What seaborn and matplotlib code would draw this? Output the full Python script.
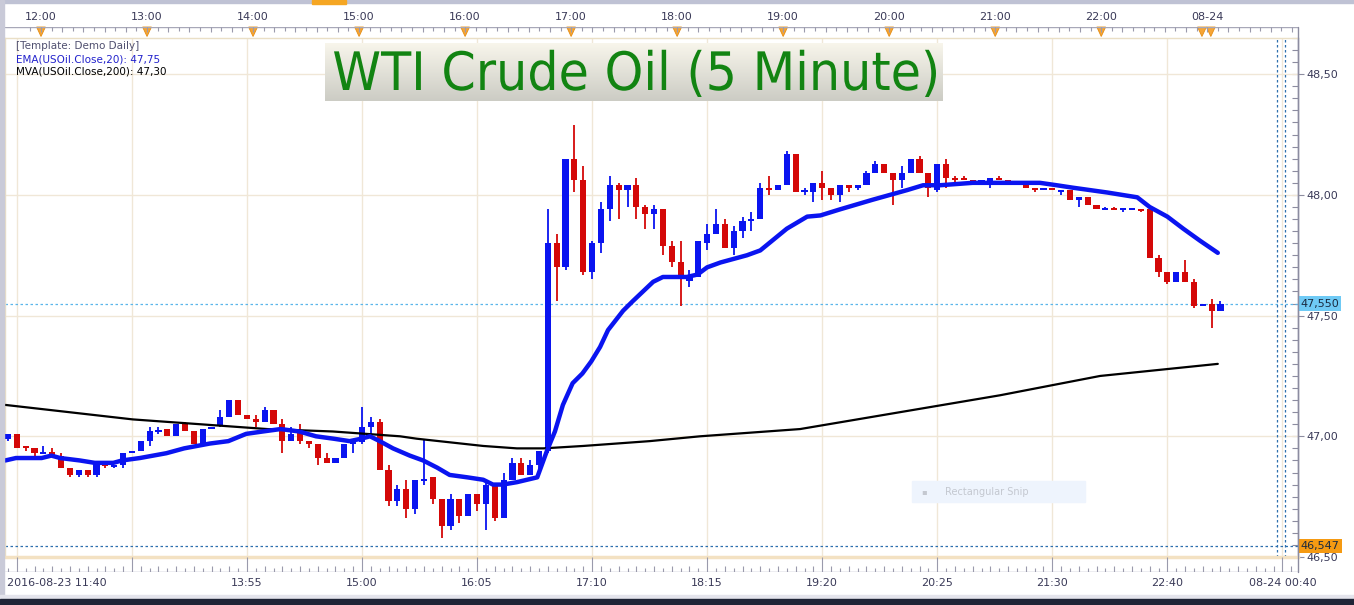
import numpy as np
import pandas as pd
import matplotlib
matplotlib.use("Agg")
import matplotlib.pyplot as plt
import matplotlib.transforms as mtransforms
from matplotlib.patches import Rectangle, Polygon, PathPatch
from matplotlib.lines import Line2D
from matplotlib.textpath import TextPath
from matplotlib.font_manager import FontProperties
import seaborn as sns

sns.set_style("white")
plt.rcParams['font.family'] = ['DejaVu Sans']

# 5 minute candles, index 0 = first candle at the left edge
opens = [46.99, 47.01, 46.96, 46.95, 46.93, 46.935, 46.92, 46.87, 46.84, 46.86,
         46.84, 46.885, 46.875, 46.88, 46.93, 46.94, 46.98, 47.02, 47.03, 47.00,
         47.05, 47.02, 46.97, 47.03, 47.045, 47.08, 47.15, 47.09, 47.07, 47.06,
         47.11, 47.05, 46.98, 47.02, 46.98, 46.97, 46.91, 46.89, 46.91, 46.97,
         46.975, 47.04, 47.06, 46.86, 46.73, 46.78, 46.70, 46.815, 46.83, 46.74,
         46.63, 46.74, 46.67, 46.76, 46.72, 46.80, 46.66, 46.82, 46.89, 46.84,
         46.88, 46.94, 47.80, 47.70, 48.15, 48.06, 47.68, 47.80, 47.94, 48.04,
         48.02, 48.04, 47.95, 47.92, 47.94, 47.79, 47.72, 47.645, 47.66, 47.80,
         47.84, 47.88, 47.78, 47.85, 47.895, 47.90, 48.03, 48.02, 48.04, 48.17,
         48.01, 48.01, 48.05, 48.03, 48.00, 48.04, 48.03, 48.04, 48.09, 48.13,
         48.09, 48.06, 48.09, 48.15, 48.09, 48.02, 48.13, 48.07, 48.07, 48.06,
         48.05, 48.05, 48.07, 48.06, 48.05, 48.04, 48.03, 48.02, 48.03, 48.015,
         48.02, 47.98, 47.99, 47.96, 47.94, 47.945, 47.94, 47.94, 47.94, 47.94,
         47.74, 47.68, 47.64, 47.68, 47.64, 47.54, 47.55, 47.52]
highs = [47.01, 47.01, 46.96, 46.95, 46.96, 46.95, 46.93, 46.87, 46.86, 46.86,
         46.89, 46.89, 46.88, 46.93, 46.94, 46.98, 47.04, 47.04, 47.03, 47.05,
         47.06, 47.02, 47.03, 47.04, 47.11, 47.15, 47.15, 47.09, 47.09, 47.12,
         47.11, 47.07, 47.04, 47.05, 46.98, 46.97, 46.93, 46.91, 46.97, 46.99,
         47.12, 47.08, 47.07, 46.88, 46.80, 46.82, 46.82, 46.99, 46.83, 46.74,
         46.76, 46.74, 46.76, 46.76, 46.82, 46.80, 46.85, 46.91, 46.91, 46.90,
         46.94, 47.94, 47.84, 48.15, 48.29, 48.12, 47.81, 47.97, 48.08, 48.05,
         48.04, 48.07, 47.96, 47.96, 47.94, 47.81, 47.81, 47.69, 47.81, 47.88,
         47.94, 47.90, 47.87, 47.91, 47.93, 48.05, 48.08, 48.04, 48.18, 48.17,
         48.03, 48.05, 48.10, 48.03, 48.04, 48.04, 48.04, 48.10, 48.14, 48.13,
         48.09, 48.12, 48.15, 48.16, 48.09, 48.13, 48.15, 48.08, 48.08, 48.06,
         48.06, 48.07, 48.08, 48.06, 48.05, 48.04, 48.03, 48.03, 48.03, 48.02,
         48.02, 47.99, 47.99, 47.96, 47.95, 47.95, 47.945, 47.945, 47.94, 47.94,
         47.75, 47.68, 47.68, 47.73, 47.65, 47.545, 47.57, 47.56]
lows = [46.98, 46.95, 46.94, 46.92, 46.93, 46.92, 46.87, 46.83, 46.83, 46.83,
        46.83, 46.87, 46.87, 46.87, 46.93, 46.94, 46.96, 47.01, 47.00, 47.00,
        47.02, 46.97, 46.97, 47.03, 47.04, 47.08, 47.09, 47.07, 47.04, 47.06,
        47.05, 46.93, 46.98, 46.97, 46.95, 46.88, 46.89, 46.89, 46.91, 46.93,
        46.97, 47.01, 46.86, 46.71, 46.71, 46.66, 46.68, 46.80, 46.72, 46.58,
        46.61, 46.64, 46.67, 46.69, 46.61, 46.65, 46.66, 46.82, 46.84, 46.84,
        46.86, 46.93, 47.56, 47.69, 48.01, 47.67, 47.65, 47.76, 47.89, 47.90,
        47.95, 47.90, 47.86, 47.86, 47.75, 47.70, 47.54, 47.62, 47.66, 47.77,
        47.84, 47.78, 47.75, 47.82, 47.85, 47.90, 48.00, 48.02, 48.04, 48.01,
        48.00, 47.97, 47.98, 47.98, 47.97, 48.01, 48.02, 48.04, 48.09, 48.09,
        47.96, 48.03, 48.09, 48.09, 47.99, 48.01, 48.03, 48.05, 48.06, 48.05,
        48.05, 48.03, 48.06, 48.05, 48.04, 48.03, 48.01, 48.02, 48.02, 48.00,
        47.98, 47.95, 47.96, 47.94, 47.94, 47.94, 47.93, 47.94, 47.93, 47.74,
        47.66, 47.63, 47.64, 47.64, 47.53, 47.54, 47.45, 47.52]
closes = [47.01, 46.95, 46.95, 46.93, 46.935, 46.92, 46.87, 46.84, 46.86, 46.84,
          46.89, 46.875, 46.88, 46.93, 46.94, 46.98, 47.02, 47.025, 47.00, 47.05,
          47.02, 46.97, 47.03, 47.04, 47.08, 47.15, 47.09, 47.07, 47.06, 47.11,
          47.05, 46.98, 47.01, 46.98, 46.97, 46.91, 46.89, 46.91, 46.97, 46.98,
          47.04, 47.06, 46.86, 46.73, 46.78, 46.70, 46.82, 46.82, 46.74, 46.63,
          46.74, 46.67, 46.76, 46.72, 46.80, 46.66, 46.82, 46.89, 46.84, 46.88,
          46.94, 47.80, 47.70, 48.15, 48.06, 47.68, 47.80, 47.94, 48.04, 48.02,
          48.04, 47.95, 47.92, 47.94, 47.79, 47.72, 47.65, 47.66, 47.81, 47.84,
          47.88, 47.78, 47.85, 47.89, 47.90, 48.03, 48.02, 48.04, 48.17, 48.01,
          48.02, 48.05, 48.03, 48.00, 48.04, 48.03, 48.04, 48.09, 48.13, 48.09,
          48.06, 48.09, 48.15, 48.09, 48.03, 48.13, 48.07, 48.065, 48.06, 48.05,
          48.06, 48.07, 48.06, 48.05, 48.04, 48.03, 48.02, 48.03, 48.02, 48.02,
          47.98, 47.99, 47.96, 47.94, 47.945, 47.94, 47.945, 47.945, 47.935, 47.74,
          47.68, 47.64, 47.68, 47.64, 47.54, 47.545, 47.52, 47.55]

# EMA(20) (candle index, price)
ema_idx = [-0.3, 0.9, 3.8, 4.9, 5.9, 8.1, 9.8, 11.9, 12.9, 14.9, 17.9, 19.9, 22.8,
           24.9, 26.9, 28.8, 30.8, 32.9, 34.8, 36.8, 38.6, 39.9, 40.9, 42.0, 43.5,
           45.4, 46.9, 48.5, 49.9, 51.9, 53.7, 54.8, 55.9, 57.5, 59.8, 60.9, 61.8,
           62.7, 63.8, 64.9, 65.9, 66.9, 67.8, 69.5, 70.6, 72.9, 74.0, 76.7, 77.9,
           79.0, 80.5, 83.5, 85.0, 88.0, 90.3, 91.8, 94.0, 97.7, 101.6, 103.4, 105.3,
           109.0, 112.9, 116.6, 118.5, 120.3, 124.2, 127.6, 129.0, 131.0, 132.8,
           134.7, 136.7]
ema_val = [46.90, 46.91, 46.91, 46.92, 46.91, 46.90, 46.89, 46.89, 46.90, 46.91,
           46.93, 46.95, 46.97, 46.98, 47.01, 47.02, 47.03, 47.02, 47.00, 46.99,
           46.98, 46.99, 47.00, 46.98, 46.95, 46.92, 46.90, 46.87, 46.84, 46.83,
           46.82, 46.80, 46.80, 46.81, 46.83, 46.94, 47.02, 47.13, 47.22, 47.26,
           47.31, 47.37, 47.44, 47.52, 47.56, 47.64, 47.66, 47.66, 47.67, 47.70,
           47.72, 47.75, 47.77, 47.86, 47.91, 47.915, 47.94, 47.98, 48.02, 48.04,
           48.04, 48.05, 48.05, 48.05, 48.04, 48.03, 48.01, 47.99, 47.95, 47.91,
           47.86, 47.81, 47.76]

# MVA(200)
mva_idx = [-0.3, 14.1, 21.7, 29.3, 36.7, 44.3, 46.2, 53.7, 57.5, 60.5, 65.0, 72.5,
           78.2, 89.5, 100.8, 112.1, 123.4, 136.7]
mva_val = [47.13, 47.07, 47.05, 47.03, 47.02, 47.00, 46.99, 46.96, 46.95, 46.95,
           46.96, 46.98, 47.00, 47.03, 47.10, 47.17, 47.25, 47.30]

bottom_labels = ["2016-08-23 11:40", "", "13:55", "15:00", "16:05", "17:10", "18:15",
                 "19:20", "20:25", "21:30", "22:40", "08-24 00:40"]
top_labels = ["12:00", "13:00", "14:00", "15:00", "16:00", "17:00", "18:00",
              "19:00", "20:00", "21:00", "22:00", "08-24"]
y_ticks = [46.5, 47.0, 47.5, 48.0, 48.5]
last_price = 47.550
low_mark = 46.547
ema_last = 47.75
mva_last = 47.30
title = "WTI Crude Oil (5 Minute)"

BLUE = "#0a14f0"
RED = "#d40808"
GRID = "#f0e7d7"
TXT = "#3a3a58"
W, H = 1354, 605


def fx(px):
    return px / W


def fy(py):
    return 1 - py / H


def comma(v, nd):
    return f"{v:.{nd}f}".replace(".", ",")


fig = plt.figure(figsize=(W / 100, H / 100), dpi=100, facecolor="white")

# window chrome bits
fig.patches.append(Rectangle((0, fy(3)), 1, fy(0) - fy(3), transform=fig.transFigure,
                             color="#bfc2d4", zorder=0))
fig.patches.append(Rectangle((fx(312), fy(4)), fx(34), fy(0) - fy(4), transform=fig.transFigure,
                             color="#f5a623", zorder=1))
fig.patches.append(Rectangle((0, 0), fx(4), 1, transform=fig.transFigure,
                             color="#c9cad8", zorder=0))
fig.patches.append(Rectangle((0, fy(599)), 1, fy(595) - fy(599), transform=fig.transFigure,
                             color="#e4e4ec", zorder=0))
fig.patches.append(Rectangle((0, 0), 1, fy(599), transform=fig.transFigure,
                             color="#1f2436", zorder=0))

x_lo, x_hi = (5 - 8) / 8.85, (1298 - 8) / 8.85

# main price panel
ax = fig.add_axes([fx(5), fy(557), fx(1298) - fx(5), fy(38) - fy(557)])
ax.set_facecolor("white")
ax.set_xlim(x_lo, x_hi)
ax.set_ylim(46.50, 48.64)

grid_idx = [1 + 13 * k for k in range(len(bottom_labels))]
for g in grid_idx:
    ax.axvline(g, color=GRID, lw=1.0, zorder=1)
for yv in y_ticks[1:]:
    ax.axhline(yv, color=GRID, lw=1.0, zorder=1)

df = pd.DataFrame({"o": opens, "h": highs, "l": lows, "c": closes})
df["i"] = np.arange(len(df))
col = np.where(df["c"] > df["o"], BLUE, RED)
ax.vlines(df["i"], df["l"], df["h"], colors=col, lw=1.3, zorder=3)
span = (df["c"] - df["o"]).abs()
min_h = 0.009
body_h = np.maximum(span, min_h)
body_b = np.where(span < min_h, (df["o"] + df["c"]) / 2 - min_h / 2,
                  np.minimum(df["o"], df["c"]))
ax.bar(df["i"], body_h, bottom=body_b, width=0.7, color=col, linewidth=0, zorder=4)

sns.lineplot(x=mva_idx, y=mva_val, ax=ax, color="black", lw=1.6, zorder=5)
sns.lineplot(x=ema_idx, y=ema_val, ax=ax, color=BLUE, lw=3.2, zorder=6)
ax.set_xlabel("")
ax.set_ylabel("")

# price markers
ax.axhline(last_price, color="#5bb6ea", lw=0.9, ls=(0, (2, 2)), zorder=2)
ax.axhline(low_mark, color="#2d6fae", lw=0.9, ls=(0, (2, 2)), zorder=2)
for xv in [(1277 - 8) / 8.85, (1285 - 8) / 8.85]:
    ax.axvline(xv, color="#2d6fae", lw=0.9, ls=(0, (2, 2)), zorder=2)

ax.set_xticks([])
ax.yaxis.tick_right()
ax.set_yticks(y_ticks)
ax.set_yticklabels([comma(v, 2) for v in y_ticks])
ax.set_yticks(np.arange(46.5, 48.66, 0.05), minor=True)
ax.tick_params(axis="y", which="major", direction="inout", length=8, width=0.8,
               color="#8c8ca0", labelsize=8, labelcolor=TXT, pad=2)
ax.tick_params(axis="y", which="minor", direction="in", length=4, width=0.8,
               color="#8c8ca0", right=True)
for side in ["top", "left"]:
    ax.spines[side].set_color("#eadfc6")
    ax.spines[side].set_linewidth(1)
ax.spines["bottom"].set_color("#f3e1c2")
ax.spines["bottom"].set_linewidth(2.5)
ax.spines["right"].set_color("#8c8ca0")
ax.spines["right"].set_linewidth(1)

ytr = mtransforms.blended_transform_factory(ax.transAxes, ax.transData)
ax.text(1.002, last_price, comma(last_price, 3), transform=ytr,
        fontsize=8, color="#1a2a40", va="center", ha="left", zorder=10,
        bbox=dict(fc="#6fcaf5", ec="none", pad=1.5))
ax.text(1.002, low_mark, comma(low_mark, 3), transform=ytr,
        fontsize=8, color="#1a2a40", va="center", ha="left", zorder=10,
        bbox=dict(fc="#f59a12", ec="none", pad=1.5))

# indicator legend
fig.text(fx(16), fy(46), "[Template: Demo Daily]", fontsize=7.5, color="#505070", va="center")
fig.text(fx(16), fy(59), f"EMA(USOil.Close,20): {comma(ema_last, 2)}", fontsize=7.5,
         color="#2222cc", va="center")
fig.text(fx(16), fy(72), f"MVA(USOil.Close,200): {comma(mva_last, 2)}", fontsize=7.5,
         color="black", va="center")

# faint snipping tool tooltip
fig.patches.append(Rectangle((fx(912), fy(502)), fx(173), fy(481) - fy(502),
                             transform=fig.transFigure, color="#eef4fd", zorder=20))
fig.text(fx(945), fy(492), "Rectangular Snip", fontsize=7, color="#c4c8d0", va="center", zorder=21)
fig.text(fx(921), fy(492), "\u25aa", fontsize=6, color="#c4c8d0", va="center", zorder=21)

# title box (axes in pixel units)
tw, th = 618, 58
axt_title = fig.add_axes([fx(325), fy(101), fx(tw), fy(43) - fy(101)])
axt_title.set_xlim(0, tw)
axt_title.set_ylim(0, th)
axt_title.set_axis_off()
vgrad = np.linspace(0, 1, 64)[:, None]
top_c = np.array([0.975, 0.965, 0.925])
bot_c = np.array([0.80, 0.80, 0.77])
img = (top_c * (1 - vgrad[..., None]) + bot_c * vgrad[..., None]) * np.ones((1, 8, 1))
axt_title.imshow(img, aspect="auto", extent=(0, tw, 0, th), origin="upper")
tp = TextPath((0, 0), title, size=53, prop=FontProperties(family="DejaVu Sans"))
ext = tp.get_extents()
sx = 602 / ext.width
trans = mtransforms.Affine2D().translate(-ext.x0, 0).scale(sx, 1).translate(9, 11)
axt_title.add_patch(PathPatch(trans.transform_path(tp), fc="#128412", ec="none"))

# top time ruler
axr = fig.add_axes([fx(5), fy(38), fx(1298) - fx(5), fy(27) - fy(38)])
axr.set_xlim(x_lo, x_hi)
axr.set_ylim(0, 11)
axr.set_axis_off()
axr.plot([x_lo, x_hi], [11, 11], color="#a8a8b8", lw=1)
hour_pos = [3.73 + 11.98 * k for k in range(len(top_labels))]
for k in range(-1, 122):
    p = 3.73 + 1.198 * k
    if x_lo < p < x_hi:
        axr.vlines(p, 11 - (5 if k % 2 == 0 else 3.5), 11, color="#9a9aac", lw=0.8)
for p, lab in zip(hour_pos, top_labels):
    axr.text(p, 21, lab, ha="center", va="center", fontsize=8, color=TXT, clip_on=False)
tri_pos = hour_pos[:-1] + [hour_pos[-1] - 0.6, hour_pos[-1] + 0.4]
for p in tri_pos:
    axr.add_patch(Polygon([(p - 0.5, 11), (p + 0.5, 11), (p, 1.5)], closed=True,
                          fc="#f7a535", ec="#e48d12", lw=0.6, clip_on=False))

# bottom time axis
axb = fig.add_axes([fx(5), fy(572), fx(1298) - fx(5), fy(557) - fy(572)])
axb.set_xlim(x_lo, x_hi)
axb.set_ylim(0, 15)
axb.set_axis_off()
axb.plot([x_lo, x_hi], [0, 0], color="#a8a8b8", lw=1)
for i in range(0, 146):
    tall = 15 if i in grid_idx else (6 if i % 2 else 4)
    axb.vlines(i, 0, tall, color="#9a9aac", lw=0.8)
for g, lab in zip(grid_idx, bottom_labels):
    if not lab:
        continue
    if g == grid_idx[0]:
        axb.text(-0.1, -11, lab, ha="left", va="center", fontsize=8, color=TXT, clip_on=False)
    else:
        axb.text(g, -11, lab, ha="center", va="center", fontsize=8, color=TXT, clip_on=False)

fig.add_artist(Line2D([fx(1298), fx(1298)], [fy(572), fy(27)], color="#8c8ca0", lw=1))

fig.savefig("out.png", dpi=100, facecolor=fig.get_facecolor())
